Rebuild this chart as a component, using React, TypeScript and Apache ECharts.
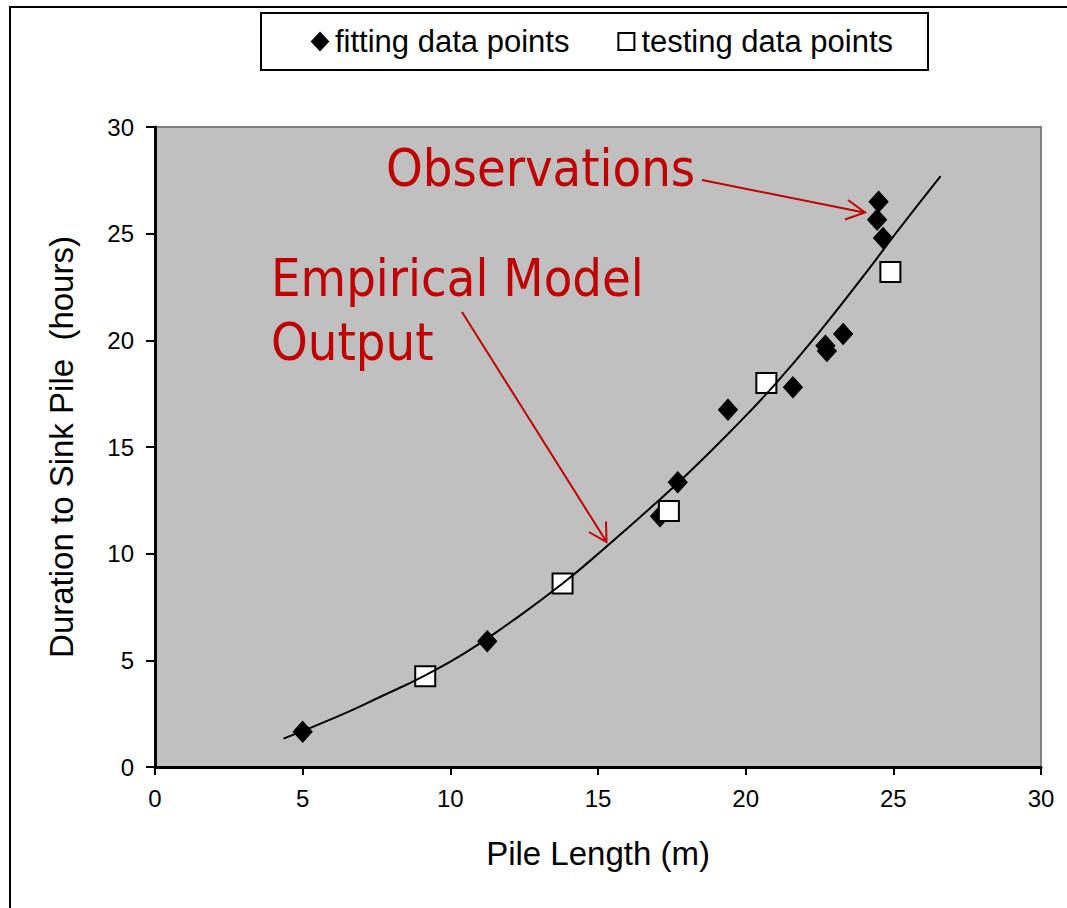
import React, { useEffect, useRef } from "react";
import * as echarts from "echarts";

const fittingX = [5.0, 11.25, 17.1, 17.7, 19.4, 21.6, 22.7, 22.75, 23.3, 24.5, 24.45, 24.65];
const fittingY = [1.65, 5.9, 11.75, 13.35, 16.75, 17.8, 19.75, 19.5, 20.3, 26.5, 25.65, 24.8];
const testingX = [9.15, 13.8, 17.4, 20.7, 24.9];
const testingY = [4.25, 8.6, 12.0, 18.0, 23.2];
const modelX = [4.35, 6.15, 7.6, 9.15, 10.5, 12, 13.8, 15.3, 16.9, 18, 19.5, 21, 22.5, 24.2, 25.1, 26.6];
const modelY = [1.33, 2.35, 3.27, 4.3, 5.35, 6.75, 8.6, 10.35, 12.3, 13.7, 15.75, 17.95, 20.4, 23.4, 25.05, 27.7];
const xTicks = [0, 5, 10, 15, 20, 25, 30];
const yTicks = [0, 5, 10, 15, 20, 25, 30];

const FONT = "'Liberation Sans', Arial, sans-serif";
const RED_FONT = "'DejaVu Sans Condensed', 'DejaVu Sans', sans-serif";
const RED = "#C00000";

export default function App() {
  const ref = useRef<HTMLDivElement>(null);
  useEffect(() => {
    if (!ref.current) return;
    const chart = echarts.init(ref.current, null, { renderer: "svg" });
    const zip = (xs: number[], ys: number[]) => xs.map((x, i) => [x, ys[i]]);
    chart.setOption({
      animation: false,
      backgroundColor: "#ffffff",
      grid: {
        left: 155,
        top: 127,
        right: 26,
        bottom: 141,
        show: true,
        backgroundColor: "#C0C0C0",
        borderColor: "#808080",
        borderWidth: 2,
      },
      legend: {
        data: [
          { name: "fitting data points", icon: "diamond" },
          { name: "testing data points", icon: "rect" },
        ],
        left: 261,
        top: 13,
        orient: "horizontal",
        borderColor: "#000",
        borderWidth: 2,
        padding: [13, 35, 13, 50],
        itemGap: 48,
        itemWidth: 16,
        itemHeight: 17,
        textStyle: { fontFamily: FONT, fontSize: 31, color: "#000", padding: [0, 0, 0, 2] },
        backgroundColor: "#fff",
      },
      xAxis: {
        type: "value",
        min: xTicks[0],
        max: xTicks[xTicks.length - 1],
        interval: 5,
        name: "Pile Length (m)",
        nameLocation: "middle",
        nameGap: 70,
        nameTextStyle: { fontFamily: FONT, fontSize: 33, color: "#000" },
        axisLine: { show: true, onZero: false, lineStyle: { color: "#000", width: 3 } },
        axisTick: { show: true, length: 8, lineStyle: { color: "#000", width: 2 } },
        axisLabel: { fontFamily: FONT, fontSize: 24, color: "#000", margin: 19 },
        splitLine: { show: false },
      },
      yAxis: {
        type: "value",
        min: yTicks[0],
        max: yTicks[yTicks.length - 1],
        interval: 5,
        name: "Duration to Sink Pile  (hours)",
        nameLocation: "middle",
        nameGap: 77,
        nameTextStyle: { fontFamily: FONT, fontSize: 33, color: "#000" },
        axisLine: { show: true, onZero: false, lineStyle: { color: "#000", width: 3 } },
        axisTick: { show: true, length: 9, lineStyle: { color: "#000", width: 2 } },
        axisLabel: { fontFamily: FONT, fontSize: 24, color: "#000", margin: 21 },
        splitLine: { show: false },
      },
      series: [
        {
          name: "fitting data points",
          type: "scatter",
          symbol: "diamond",
          symbolSize: [19, 21],
          itemStyle: { color: "#000", borderColor: "#000", borderWidth: 1, opacity: 1 },
          data: zip(fittingX, fittingY),
        },
        {
          name: "testing data points",
          type: "scatter",
          symbol: "rect",
          symbolSize: 20,
          itemStyle: { color: "#fff", borderColor: "#000", borderWidth: 2, opacity: 1 },
          data: zip(testingX, testingY),
        },
        {
          name: "model",
          type: "line",
          smooth: true,
          showSymbol: false,
          symbol: "none",
          lineStyle: { color: "#000", width: 2 },
          data: zip(modelX, modelY),
        },
      ],
      graphic: [
        {
          type: "rect",
          shape: { x: 10, y: 7, width: 1100, height: 1000 },
          style: { fill: "transparent", stroke: "#000", lineWidth: 2 },
          silent: true,
          z: 100,
        },
        {
          type: "text",
          x: 386,
          y: 168,
          style: { text: "Observations", fontFamily: RED_FONT, fontSize: 52, fill: RED, verticalAlign: "middle", align: "left" },
          z: 100,
        },
        {
          type: "text",
          x: 271,
          y: 278,
          style: { text: "Empirical Model", fontFamily: RED_FONT, fontSize: 52, fill: RED, verticalAlign: "middle", align: "left" },
          z: 100,
        },
        {
          type: "text",
          x: 271,
          y: 342,
          style: { text: "Output", fontFamily: RED_FONT, fontSize: 52, fill: RED, verticalAlign: "middle", align: "left" },
          z: 100,
        },
        {
          type: "line",
          shape: { x1: 702, y1: 180, x2: 864, y2: 212.5 },
          style: { stroke: RED, lineWidth: 2 },
          z: 100,
        },
        {
          type: "polyline",
          shape: { points: [[848, 200], [865, 212.5], [845, 219.5]] },
          style: { stroke: RED, lineWidth: 2, fill: "none" },
          z: 100,
        },
        {
          type: "line",
          shape: { x1: 462, y1: 312, x2: 606, y2: 541 },
          style: { stroke: RED, lineWidth: 2 },
          z: 100,
        },
        {
          type: "polyline",
          shape: { points: [[606, 521.5], [606.5, 542], [589, 532]] },
          style: { stroke: RED, lineWidth: 2, fill: "none" },
          z: 100,
        },
      ],
    });
    return () => chart.dispose();
  }, []);
  return (
    <div
      ref={ref}
      style={{ position: "fixed", left: 0, top: 0, width: 1067, height: 908, background: "#fff" }}
    />
  );
}
